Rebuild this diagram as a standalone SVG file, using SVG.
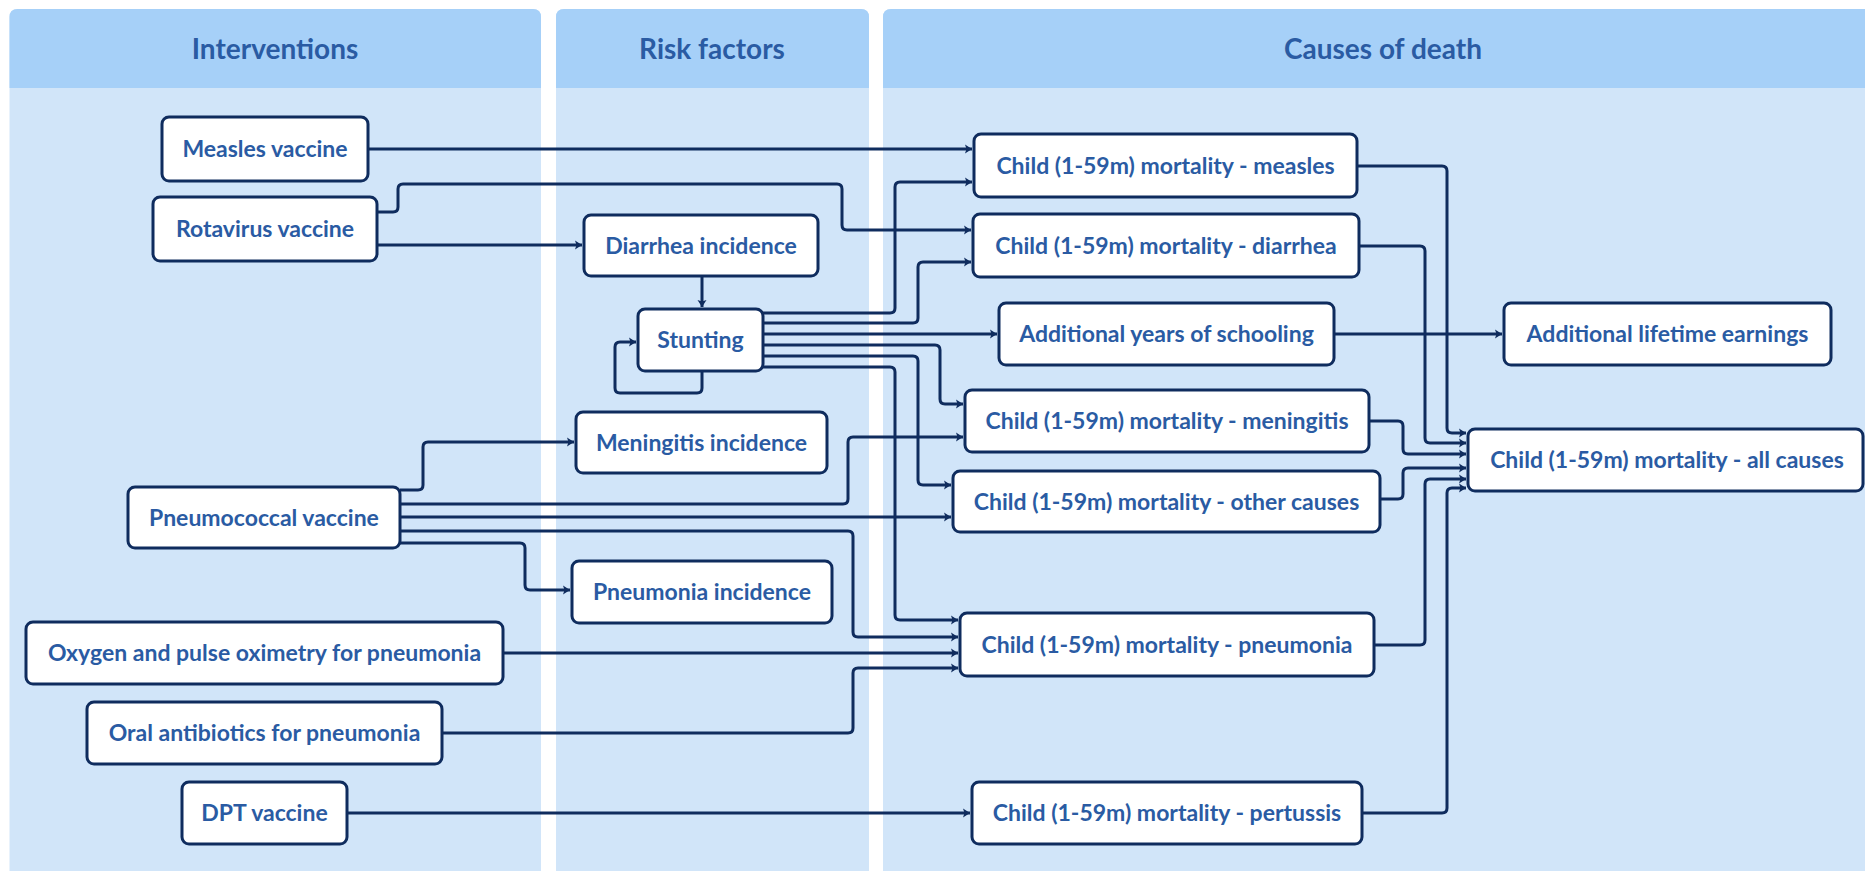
<svg xmlns="http://www.w3.org/2000/svg" width="1865" height="871" viewBox="0 0 1865 871">
<defs>
<style>
.lane{fill:#d1e5f9}
.hdr{fill:#a6d0f8}
.ht{font-family:Lato,"Liberation Sans",sans-serif;font-weight:700;font-size:28px;fill:#2a5ba3;text-anchor:middle}
.box{fill:#ffffff;stroke:#0f2c5e;stroke-width:3}
.lbl{font-family:Lato,"Liberation Sans",sans-serif;font-weight:700;font-size:23px;fill:#2a5ba3;text-anchor:middle}
.edge{fill:none;stroke:#0f2c5e;stroke-width:3;stroke-linejoin:round;marker-end:url(#arr)}
</style>
<marker id="arr" markerUnits="userSpaceOnUse" markerWidth="10" markerHeight="10" refX="8" refY="5" orient="auto">
<path d="M1,0.5 L8,5 L1,9.5 L2.5,5 z" fill="#0f2c5e"/>
</marker>
</defs>
<rect width="1865" height="871" fill="#ffffff"/>
<g id="lanes">
<rect class="lane" x="9.5" y="9" width="531.5" height="875" rx="8"/>
<path class="hdr" d="M9.5,88 V17 Q9.5,9 17.5,9 H533 Q541,9 541,17 V88 Z"/>
<text class="ht" x="275" y="59">Interventions</text>
<rect class="lane" x="556" y="9" width="313" height="875" rx="8"/>
<path class="hdr" d="M556,88 V17 Q556,9 564,9 H861 Q869,9 869,17 V88 Z"/>
<text class="ht" x="712" y="59">Risk factors</text>
<rect class="lane" x="883" y="9" width="1000" height="875" rx="8"/>
<path class="hdr" d="M883,88 V17 Q883,9 891,9 H1883 V88 Z"/>
<text class="ht" x="1383" y="59">Causes of death</text>
</g>
<g id="connectors">
<path class="edge" d="M368,149 H972"/>
<path class="edge" d="M377,212 H393 Q398,212 398,207 V189 Q398,184 403,184 H837 Q842,184 842,189 V225 Q842,230 847,230 H971"/>
<path class="edge" d="M377,245 H582"/>
<path class="edge" d="M702,276 V307"/>
<path class="edge" d="M702,371 V388 Q702,393 697,393 H620 Q615,393 615,388 V347 Q615,342 620,342 H636"/>
<path class="edge" d="M763,313 H890 Q895,313 895,308 V187 Q895,182 900,182 H972"/>
<path class="edge" d="M763,323 H913 Q918,323 918,318 V267 Q918,262 923,262 H971"/>
<path class="edge" d="M763,334 H997"/>
<path class="edge" d="M763,345 H935 Q940,345 940,350 V399 Q940,404 945,404 H963"/>
<path class="edge" d="M763,356 H913 Q918,356 918,361 V480 Q918,485 923,485 H951"/>
<path class="edge" d="M763,367 H890 Q895,367 895,372 V615 Q895,620 900,620 H958"/>
<path class="edge" d="M400,490 H418 Q423,490 423,485 V447 Q423,442 428,442 H574"/>
<path class="edge" d="M400,504 H843 Q848,504 848,499 V442 Q848,437 853,437 H963"/>
<path class="edge" d="M400,517 H951"/>
<path class="edge" d="M400,531 H848 Q853,531 853,536 V632 Q853,637 858,637 H958"/>
<path class="edge" d="M400,543 H520 Q525,543 525,548 V585 Q525,590 530,590 H570"/>
<path class="edge" d="M503,653 H958"/>
<path class="edge" d="M442,733 H848 Q853,733 853,728 V673 Q853,668 858,668 H958"/>
<path class="edge" d="M347,813 H970"/>
<path class="edge" d="M1334,334 H1502"/>
<path class="edge" d="M1357,166 H1442 Q1447,166 1447,171 V428 Q1447,433 1452,433 H1466"/>
<path class="edge" d="M1359,246 H1420 Q1425,246 1425,251 V438 Q1425,443 1430,443 H1466"/>
<path class="edge" d="M1369,421 H1398 Q1403,421 1403,426 V449 Q1403,454 1408,454 H1466"/>
<path class="edge" d="M1380,499 H1398 Q1403,499 1403,494 V473 Q1403,468 1408,468 H1466"/>
<path class="edge" d="M1374,645 H1420 Q1425,645 1425,640 V484 Q1425,479 1430,479 H1466"/>
<path class="edge" d="M1362,813 H1442 Q1447,813 1447,808 V493 Q1447,488 1452,488 H1466"/>
</g>
<g id="n-measles-vaccine"><rect class="box" x="162" y="117" width="206" height="64" rx="7"/><text class="lbl" x="265" y="157.2">Measles vaccine</text></g>
<g id="n-rotavirus-vaccine"><rect class="box" x="153" y="197" width="224" height="64" rx="7"/><text class="lbl" x="265" y="237.2">Rotavirus vaccine</text></g>
<g id="n-pneumococcal-vaccine"><rect class="box" x="128" y="487" width="272" height="61" rx="7"/><text class="lbl" x="264" y="525.7">Pneumococcal vaccine</text></g>
<g id="n-oxygen"><rect class="box" x="26" y="622" width="477" height="62" rx="7"/><text class="lbl" x="264.5" y="661.2">Oxygen and pulse oximetry for pneumonia</text></g>
<g id="n-oral-antibiotics"><rect class="box" x="87" y="702" width="355" height="62" rx="7"/><text class="lbl" x="264.5" y="741.2">Oral antibiotics for pneumonia</text></g>
<g id="n-dpt-vaccine"><rect class="box" x="182" y="782" width="165" height="62" rx="7"/><text class="lbl" x="264.5" y="821.2">DPT vaccine</text></g>
<g id="n-diarrhea-incidence"><rect class="box" x="584" y="215" width="234" height="61" rx="7"/><text class="lbl" x="701" y="253.7">Diarrhea incidence</text></g>
<g id="n-stunting"><rect class="box" x="638" y="309" width="125" height="62" rx="7"/><text class="lbl" x="700.5" y="348.2">Stunting</text></g>
<g id="n-meningitis-incidence"><rect class="box" x="576" y="412" width="251" height="61" rx="7"/><text class="lbl" x="701.5" y="450.7">Meningitis incidence</text></g>
<g id="n-pneumonia-incidence"><rect class="box" x="572" y="561" width="260" height="62" rx="7"/><text class="lbl" x="702" y="600.2">Pneumonia incidence</text></g>
<g id="n-measles-mortality"><rect class="box" x="974" y="134" width="383" height="63" rx="7"/><text class="lbl" x="1165.5" y="173.7">Child (1-59m) mortality - measles</text></g>
<g id="n-diarrhea-mortality"><rect class="box" x="973" y="214" width="386" height="63" rx="7"/><text class="lbl" x="1166" y="253.7">Child (1-59m) mortality - diarrhea</text></g>
<g id="n-schooling"><rect class="box" x="999" y="303" width="335" height="62" rx="7"/><text class="lbl" x="1166.5" y="342.2">Additional years of schooling</text></g>
<g id="n-meningitis-mortality"><rect class="box" x="965" y="390" width="404" height="62" rx="7"/><text class="lbl" x="1167" y="429.2">Child (1-59m) mortality - meningitis</text></g>
<g id="n-other-mortality"><rect class="box" x="953" y="471" width="427" height="61" rx="7"/><text class="lbl" x="1166.5" y="509.7">Child (1-59m) mortality - other causes</text></g>
<g id="n-pneumonia-mortality"><rect class="box" x="960" y="613" width="414" height="63" rx="7"/><text class="lbl" x="1167" y="652.7">Child (1-59m) mortality - pneumonia</text></g>
<g id="n-pertussis-mortality"><rect class="box" x="972" y="782" width="390" height="62" rx="7"/><text class="lbl" x="1167" y="821.2">Child (1-59m) mortality - pertussis</text></g>
<g id="n-earnings"><rect class="box" x="1504" y="303" width="327" height="62" rx="7"/><text class="lbl" x="1667.5" y="342.2">Additional lifetime earnings</text></g>
<g id="n-all-causes"><rect class="box" x="1468" y="429" width="395" height="62" rx="7"/><text class="lbl" x="1667" y="468.2">Child (1-59m) mortality - all causes</text></g>
</svg>
